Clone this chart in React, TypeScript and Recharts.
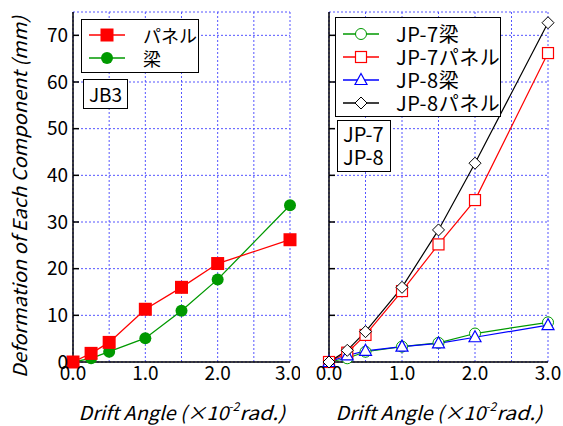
import { CartesianGrid, Line, LineChart, XAxis, YAxis } from 'recharts';

const driftAngle = [0, 0.25, 0.5, 1.0, 1.5, 2.0, 3.0];
const jb3Panel = [0, 1.85, 4.2, 11.3, 16.0, 21.1, 26.2];
const jb3Beam = [0, 0.8, 2.2, 5.1, 11.0, 17.7, 33.6];
const jp7Beam = [0, 0.8, 2.2, 3.3, 4.1, 6.1, 8.5];
const jp7Panel = [0, 2.0, 5.8, 15.2, 25.2, 34.7, 66.2];
const jp8Beam = [0, 1.4, 2.4, 3.3, 4.0, 5.3, 7.9];
const jp8Panel = [0, 2.5, 6.5, 16.0, 28.3, 42.6, 72.7];

const xTicks = [0, 0.5, 1, 1.5, 2, 2.5, 3];
const yTicks = [0, 10, 20, 30, 40, 50, 60, 70];

const leftData = driftAngle.map((x, i) => ({ x, panel: jb3Panel[i], beam: jb3Beam[i] }));
const rightData = driftAngle.map((x, i) => ({
  x,
  jp7b: jp7Beam[i],
  jp7p: jp7Panel[i],
  jp8b: jp8Beam[i],
  jp8p: jp8Panel[i],
}));

const FONT = '"Noto Sans CJK JP", "Noto Sans", sans-serif';
const GREEN = '#009900';
const RED = '#ff0000';
const BLUE = '#0000ff';

// marker shapes
const filledSquare = (p: any) => (
  <rect key={p.index} x={p.cx - 6.5} y={p.cy - 6.5} width={13} height={13} fill={RED} />
);
const filledCircle = (p: any) => <circle key={p.index} cx={p.cx} cy={p.cy} r={6} fill={GREEN} />;
const openCircle = (p: any) => (
  <circle key={p.index} cx={p.cx} cy={p.cy} r={5.5} fill="#fff" stroke={GREEN} strokeWidth={1} />
);
const openSquare = (p: any) => (
  <rect key={p.index} x={p.cx - 5.5} y={p.cy - 5.5} width={11} height={11} fill="#fff" stroke={RED} strokeWidth={1.2} />
);
const openTriangle = (p: any) => (
  <polygon
    key={p.index}
    points={`${p.cx},${p.cy - 6.5} ${p.cx + 6},${p.cy + 4.5} ${p.cx - 6},${p.cy + 4.5}`}
    fill="#fff"
    stroke={BLUE}
    strokeWidth={1.2}
  />
);
const openDiamond = (p: any) => (
  <polygon
    key={p.index}
    points={`${p.cx},${p.cy - 6} ${p.cx + 6},${p.cy} ${p.cx},${p.cy + 6} ${p.cx - 6},${p.cy}`}
    fill="#fff"
    stroke="#000"
    strokeWidth={1}
  />
);

const xLabel = (props: any) => {
  const vb = props.viewBox;
  const cx = vb.x + vb.width / 2 + 3;
  return (
    <text x={cx - 106} y={420} fontFamily={FONT} fontStyle="italic" fontSize={19} fill="#000">
      <tspan textLength={150} lengthAdjust="spacingAndGlyphs">Drift Angle (×10</tspan>
      <tspan dy={-9} fontSize={12}>-2</tspan>
      <tspan dy={9} textLength={46} lengthAdjust="spacingAndGlyphs">rad.)</tspan>
    </text>
  );
};

const yLabel = () => (
  <text
    x={27}
    y={197}
    transform="rotate(-90 27 197)"
    textAnchor="middle"
    fontFamily={FONT}
    fontStyle="italic"
    fontSize={19}
    fill="#000"
    textLength={362}
    lengthAdjust="spacingAndGlyphs"
  >
    Deformation of Each Component (mm)
  </text>
);

const tickStyle = { fontFamily: FONT, fontSize: 19, fill: '#000' };
const fmtX = (v: number) => (v % 1 === 0 ? v.toFixed(1) : '');
const blank = () => '';

const boxStyle: React.CSSProperties = {
  position: 'absolute',
  background: '#fff',
  border: '1.5px solid #000',
  boxSizing: 'border-box',
  fontFamily: FONT,
  color: '#000',
};

function Sample({ color, marker }: { color: string; marker: string }) {
  let m: React.ReactNode = null;
  if (marker === 'fsq') m = <rect x={11.5} y={4.5} width={13} height={13} fill={color} />;
  if (marker === 'fci') m = <circle cx={18} cy={11} r={6} fill={color} />;
  if (marker === 'oci') m = <circle cx={18} cy={11} r={5.5} fill="#fff" stroke={color} />;
  if (marker === 'osq') m = <rect x={12.5} y={5.5} width={11} height={11} fill="#fff" stroke={color} strokeWidth={1.2} />;
  if (marker === 'otr') m = <polygon points="18,4.5 24,15.5 12,15.5" fill="#fff" stroke={color} strokeWidth={1.2} />;
  if (marker === 'odi') m = <polygon points="18,5 24,11 18,17 12,11" fill="#fff" stroke={color} />;
  return (
    <svg width={36} height={22} style={{ display: 'block', flex: 'none' }}>
      <line x1={0} y1={11} x2={36} y2={11} stroke={color} strokeWidth={1.3} />
      {m}
    </svg>
  );
}

const leftLegend = [
  { name: 'パネル', color: RED, marker: 'fsq' },
  { name: '梁', color: GREEN, marker: 'fci' },
];
const rightLegend = [
  { name: 'JP-7梁', color: GREEN, marker: 'oci' },
  { name: 'JP-7パネル', color: RED, marker: 'osq' },
  { name: 'JP-8梁', color: BLUE, marker: 'otr' },
  { name: 'JP-8パネル', color: '#000', marker: 'odi' },
];

function Panel({
  data,
  width,
  yWidth,
  right,
  showY,
  children,
}: {
  data: any[];
  width: number;
  yWidth: number;
  right: number;
  showY: boolean;
  children: React.ReactNode;
}) {
  return (
    <LineChart width={width} height={426} data={data} margin={{ top: 12, right, bottom: 0, left: 0 }}>
      <CartesianGrid stroke="#5555ff" strokeDasharray="2 2" strokeWidth={1} />
      <XAxis
        type="number"
        dataKey="x"
        domain={[0, 3]}
        ticks={xTicks}
        tickFormatter={fmtX}
        tick={tickStyle}
        tickLine={false}
        tickSize={0}
        tickMargin={5}
        height={64}
        stroke="#000"
        strokeWidth={1.5}
        label={xLabel}
      />
      <XAxis
        xAxisId="t"
        orientation="top"
        type="number"
        dataKey="x"
        domain={[0, 3]}
        ticks={xTicks}
        tickFormatter={blank}
        tickSize={-6}
        height={0}
        stroke="#000"
        strokeWidth={1.5}
      />
      <YAxis
        type="number"
        domain={[0, 75]}
        ticks={yTicks}
        tick={tickStyle}
        tickFormatter={showY ? undefined : blank}
        tickSize={-6}
        tickMargin={11}
        width={yWidth}
        stroke="#000"
        strokeWidth={1.5}
        label={showY ? yLabel : undefined}
      />
      <YAxis
        yAxisId="r"
        orientation="right"
        type="number"
        domain={[0, 75]}
        ticks={yTicks}
        tickFormatter={blank}
        tickSize={-6}
        width={0}
        stroke="#000"
        strokeWidth={1.5}
      />
      {children}
    </LineChart>
  );
}

export default function App() {
  return (
    <div style={{ position: 'absolute', left: 0, top: 0, width: 563, height: 426, background: '#fff' }}>
      <div style={{ position: 'absolute', left: 0, top: 0 }}>
        <Panel data={leftData} width={300} yWidth={73} right={10} showY>
          <Line dataKey="beam" stroke={GREEN} strokeWidth={1.3} dot={filledCircle} isAnimationActive={false} />
          <Line dataKey="panel" stroke={RED} strokeWidth={1.3} dot={filledSquare} isAnimationActive={false} />
        </Panel>
      </div>
      <div style={{ position: 'absolute', left: 300, top: 0 }}>
        <Panel data={rightData} width={263} yWidth={29} right={15} showY={false}>
          <Line dataKey="jp7b" stroke={GREEN} strokeWidth={1.2} dot={openCircle} isAnimationActive={false} />
          <Line dataKey="jp7p" stroke={RED} strokeWidth={1.2} dot={openSquare} isAnimationActive={false} />
          <Line dataKey="jp8b" stroke={BLUE} strokeWidth={1.2} dot={openTriangle} isAnimationActive={false} />
          <Line dataKey="jp8p" stroke="#000" strokeWidth={1.2} dot={openDiamond} isAnimationActive={false} />
        </Panel>
      </div>

      <div style={{ ...boxStyle, left: 81, top: 19, width: 118, height: 54, padding: '3px 0 0 7px' }}>
        {leftLegend.map((e) => (
          <div key={e.name} style={{ display: 'flex', alignItems: 'center', height: 23 }}>
            <Sample color={e.color} marker={e.marker} />
            <span style={{ marginLeft: 18, fontSize: 18, lineHeight: '22px', whiteSpace: 'nowrap' }}>{e.name}</span>
          </div>
        ))}
      </div>
      <div style={{ ...boxStyle, left: 83, top: 79, width: 45, height: 30, fontSize: 19, lineHeight: '27px', textAlign: 'center' }}>
        JB3
      </div>

      <div style={{ ...boxStyle, left: 335, top: 17, width: 166, height: 100, padding: '4px 0 0 7px' }}>
        {rightLegend.map((e) => (
          <div key={e.name} style={{ display: 'flex', alignItems: 'center', height: 23 }}>
            <Sample color={e.color} marker={e.marker} />
            <span style={{ marginLeft: 17, fontSize: 20, lineHeight: '22px', letterSpacing: 0.5, whiteSpace: 'nowrap' }}>
              {e.name}
            </span>
          </div>
        ))}
      </div>
      <div style={{ ...boxStyle, left: 337, top: 120, width: 54, height: 52, fontSize: 20, lineHeight: '23px', padding: '1px 0 0 5px' }}>
        JP-7
        <br />
        JP-8
      </div>
    </div>
  );
}
